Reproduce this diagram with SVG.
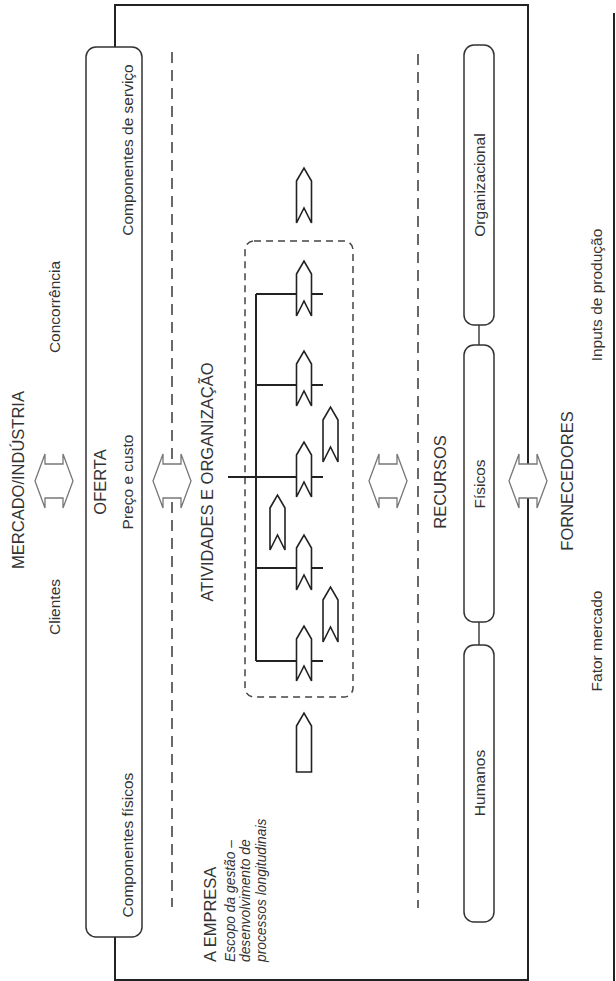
<svg xmlns="http://www.w3.org/2000/svg" width="616" height="981" viewBox="0 0 616 981">
<style>
.t{font-family:"Liberation Sans",Arial,sans-serif;fill:#333;text-anchor:middle}
.b{font-size:15.5px}
.h{font-size:16.5px}
.i{font-family:"Liberation Sans",Arial,sans-serif;fill:#333;font-size:13.8px;font-style:italic}
.frame{fill:none;stroke:#222;stroke-width:2}
.box{fill:#fff;stroke:#333;stroke-width:1.5}
.dash{fill:none;stroke:#444;stroke-width:1.6;stroke-dasharray:11 7}
.dbox{fill:none;stroke:#444;stroke-width:1.5;stroke-dasharray:7 5}
.ln{fill:none;stroke:#222;stroke-width:2}
.dbl{fill:#fff;stroke:#777;stroke-width:1.3}
.chev{fill:#fff;stroke:#222;stroke-width:1.6;stroke-linejoin:miter}
</style>
<defs>
<path id="da" d="M-19,0 L-9,-27 L-9,-17 L9,-17 L9,-27 L19,0 L9,27 L9,17 L-9,17 L-9,27 Z"/>
<path id="cv" d="M-7.5,13 L0,0 L7.5,13 L7.5,55 L0,40 L-7.5,55 Z"/>
<path id="cf" d="M-7.5,13 L0,0 L7.5,13 L7.5,59 L-7.5,59 Z"/>
</defs>

<g id="empresa-frame">
<path class="frame" d="M115,47 L115,5 L528,5 L528,980 L115,980 L115,937"/>
<path class="frame" d="M614,13 L614,981"/>
<text class="t h" transform="translate(216,962) rotate(-90)" style="text-anchor:start">A EMPRESA</text>
<text class="i" transform="translate(235,962) rotate(-90)">Escopo da gestão –</text>
<text class="i" transform="translate(250,962) rotate(-90)">desenvolvimento de</text>
<text class="i" transform="translate(266,962) rotate(-90)">processos longitudinais</text>
</g>

<g id="mercado">
<text class="t h" transform="translate(24,480) rotate(-90)">MERCADO/INDÚSTRIA</text>
<text class="t b" transform="translate(60,607) rotate(-90)">Clientes</text>
<text class="t b" transform="translate(60,307) rotate(-90)">Concorrência</text>
</g>

<g id="oferta">
<rect class="box" x="86" y="47" width="56" height="890" rx="10"/>
<text class="t h" transform="translate(106,482) rotate(-90)">OFERTA</text>
<text class="t b" transform="translate(133,482) rotate(-90)">Preço e custo</text>
<text class="t b" transform="translate(133,150) rotate(-90)">Componentes de serviço</text>
<text class="t b" transform="translate(133,845) rotate(-90)">Componentes físicos</text>
</g>

<g id="separadores">
<line class="dash" x1="172" y1="52" x2="172" y2="907"/>
<line class="dash" x1="418" y1="54" x2="418" y2="908"/>
</g>

<g id="atividades">
<text class="t h" transform="translate(213,482) rotate(-90)">ATIVIDADES E ORGANIZAÇÃO</text>
<rect class="dbox" x="245" y="241" width="108" height="456" rx="9"/>
</g>

<g id="recursos">
<text class="t h" transform="translate(446,482) rotate(-90)">RECURSOS</text>
<line class="ln" x1="479" y1="325" x2="479" y2="345" style="stroke-width:1.3"/>
<line class="ln" x1="479" y1="622" x2="479" y2="645" style="stroke-width:1.3"/>
<g id="organizacional">
<rect class="box" x="464" y="45" width="30" height="280" rx="10"/>
<text class="t b" transform="translate(485,185) rotate(-90)">Organizacional</text>
</g>
<g id="fisicos">
<rect class="box" x="464" y="345" width="30" height="277" rx="10"/>
<text class="t b" transform="translate(485,484) rotate(-90)">Físicos</text>
</g>
<g id="humanos">
<rect class="box" x="464" y="645" width="30" height="277" rx="10"/>
<text class="t b" transform="translate(485,783) rotate(-90)">Humanos</text>
</g>
</g>

<g id="fornecedores">
<text class="t h" transform="translate(573,481) rotate(-90)">FORNECEDORES</text>
<text class="t b" transform="translate(602,295) rotate(-90)">Inputs de produção</text>
<text class="t b" transform="translate(602,641) rotate(-90)">Fator mercado</text>
</g>

<g id="connectors">
<use href="#da" class="dbl" x="54" y="481"/>
<use href="#da" class="dbl" x="172" y="481"/>
<use href="#da" class="dbl" x="388" y="481"/>
<use href="#da" class="dbl" x="528" y="481"/>
<path class="ln" d="M256,294 L256,661 M256,294 L323,294 M256,385 L323,385 M228,477 L323,477 M256,568 L323,568 M256,661 L323,661"/>
<use href="#cv" class="chev" x="304" y="168"/>
<use href="#cv" class="chev" x="304" y="261"/>
<use href="#cv" class="chev" x="304" y="351"/>
<use href="#cv" class="chev" x="304" y="442"/>
<use href="#cv" class="chev" x="304" y="535"/>
<use href="#cv" class="chev" x="304" y="626"/>
<use href="#cv" class="chev" x="330.5" y="407"/>
<use href="#cv" class="chev" x="277.5" y="495"/>
<use href="#cv" class="chev" x="330.5" y="587"/>
<use href="#cf" class="chev" x="304" y="713"/>
</g>
</svg>
